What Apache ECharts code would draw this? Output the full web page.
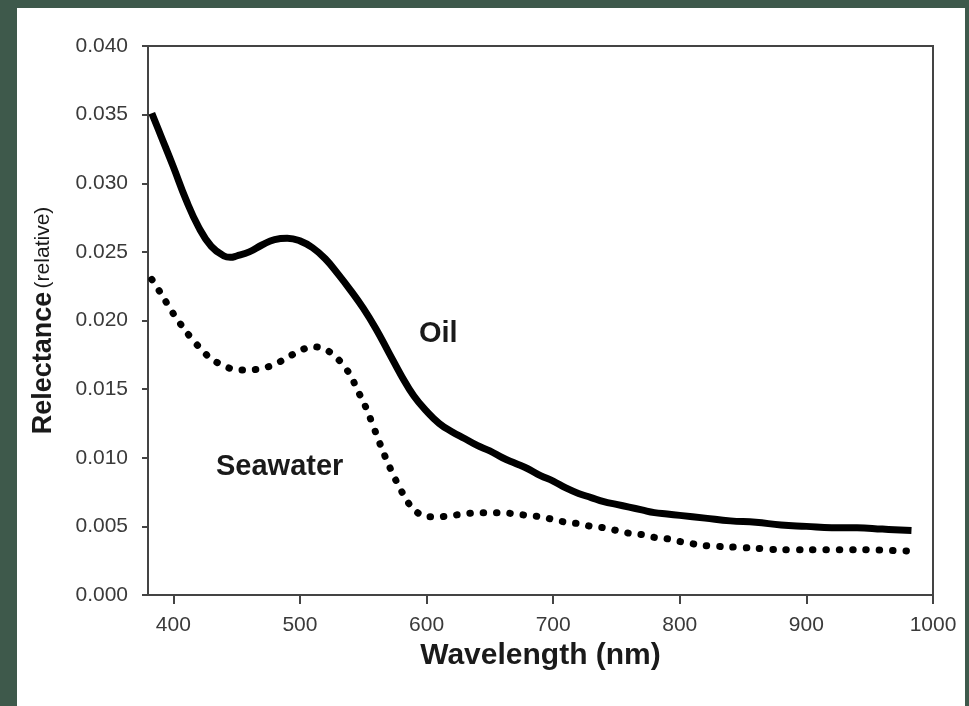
<!DOCTYPE html>
<html>
<head>
<meta charset="utf-8">
<script src="https://cdn.jsdelivr.net/npm/echarts@6/dist/echarts.min.js"></script>
<style>
html,body{margin:0;padding:0;background:#3e594b;}
#c{width:969px;height:706px;}
</style>
</head>
<body>
<div id="c"></div>
<script>
const oilWavelength = [383,390,400,410,420,430,440,445,450,460,470,480,490,500,510,520,530,540,550,560,570,580,590,600,610,620,630,640,650,660,670,680,690,700,710,720,730,740,750,760,770,780,790,800,820,840,860,880,900,920,940,960,983];
const oilValues = [0.0351,0.0335,0.0312,0.0288,0.0268,0.0254,0.0247,0.0246,0.0247,0.0250,0.0255,0.0259,0.0260,0.0258,0.0253,0.0245,0.0234,0.0222,0.0209,0.0194,0.0177,0.0160,0.0145,0.0134,0.0125,0.0119,0.0114,0.0109,0.0105,0.0100,0.0096,0.0092,0.0087,0.0083,0.0078,0.0074,0.0071,0.0068,0.0066,0.0064,0.0062,0.0060,0.0059,0.0058,0.0056,0.0054,0.0053,0.0051,0.0050,0.0049,0.0049,0.0048,0.0047];

const seaWavelength = [383,390,400,410,420,430,440,450,460,470,480,490,500,510,520,530,540,545,550,555,560,565,570,575,580,585,590,600,610,620,630,640,650,660,670,680,690,700,710,720,730,740,750,760,770,780,790,800,820,840,860,880,900,940,981];
const seaValues = [0.0230,0.0220,0.0205,0.0192,0.0181,0.0172,0.0167,0.0164,0.0164,0.0165,0.0168,0.0173,0.0178,0.0181,0.0179,0.0172,0.0160,0.0150,0.0141,0.0130,0.0118,0.0106,0.0095,0.0085,0.0076,0.0068,0.0062,0.0057,0.0057,0.0058,0.0059,0.0060,0.0060,0.0060,0.0059,0.0058,0.0057,0.0055,0.0053,0.0052,0.0050,0.0049,0.0047,0.0045,0.0044,0.0042,0.0041,0.0039,0.0036,0.0035,0.0034,0.0033,0.0033,0.0033,0.0032];

const xTickValues = [400,500,600,700,800,900,1000];
const seriesNames = ['Oil','Seawater'];

const oilData = oilWavelength.map((w,i)=>[w, oilValues[i]]);
const seaData = seaWavelength.map((w,i)=>[w, seaValues[i]]);

const chart = echarts.init(document.getElementById('c'), null, {renderer:'canvas'});
const font = 'Liberation Sans, Arial, Helvetica, sans-serif';
chart.setOption({
  backgroundColor: '#3e594b',
  animation: false,
  graphic: [
    {type:'rect', z:-10, silent:true, shape:{x:17,y:8,width:948,height:698}, style:{fill:'#ffffff'}},
    {type:'text', left:419, top:319, style:{text:'Oil', font:'bold 29px '+font, fill:'#1a1a1a'}},
    {type:'text', left:216, top:452, style:{text:'Seawater', font:'bold 29px '+font, fill:'#1a1a1a'}}
  ],
  grid: {left:148, top:46, right:36, bottom:111, show:true, borderColor:'#444', borderWidth:2, backgroundColor:'transparent'},
  xAxis: {
    type:'value', min:380, max:1000,
    name:'Wavelength (nm)', nameLocation:'middle', nameGap:31,
    nameTextStyle:{fontFamily:font, fontWeight:'bold', fontSize:30, color:'#1a1a1a'},
    axisLine:{show:true, lineStyle:{color:'#444', width:2}},
    axisTick:{show:true, length:9, lineStyle:{color:'#444', width:2}, customValues:xTickValues},
    axisLabel:{fontFamily:font, fontSize:21, color:'#3a3a3a', margin:20, customValues:xTickValues, formatter:v=>String(v)},
    splitLine:{show:false}
  },
  yAxis: {
    type:'value', min:0, max:0.04, interval:0.005,
    name:'{b|Relectance} {s|(relative)}', nameLocation:'middle', nameGap:91, nameRotate:90,
    nameTextStyle:{rich:{b:{fontFamily:font, fontWeight:'bold', fontSize:27, color:'#1a1a1a'}, s:{fontFamily:font, fontSize:21, color:'#1a1a1a'}}},
    axisLine:{show:true, lineStyle:{color:'#444', width:2}},
    axisTick:{show:true, length:6, lineStyle:{color:'#444', width:2}},
    axisLabel:{fontFamily:font, fontSize:21, color:'#3a3a3a', margin:20, formatter:v=>v.toFixed(3)},
    splitLine:{show:false}
  },
  series: [
    {name:seriesNames[0], type:'line', data:oilData, smooth:0.45, showSymbol:false, symbol:'none',
     lineStyle:{color:'#000', width:7, cap:'butt', join:'round'}},
    {name:seriesNames[1], type:'line', data:seaData, smooth:0.3, showSymbol:false, symbol:'none',
     lineStyle:{color:'#000', width:7, type:[0.5,12.8], cap:'round'}}
  ]
});
</script>
</body>
</html>
